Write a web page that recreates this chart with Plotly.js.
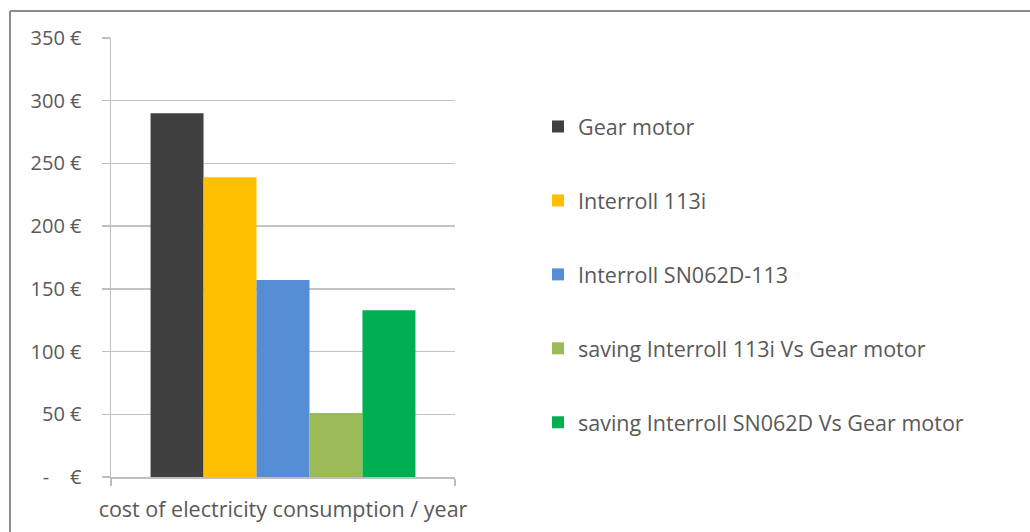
<!DOCTYPE html>
<html>
<head>
<meta charset="utf-8">
<script src="https://cdn.plot.ly/plotly-3.0.1.min.js"></script>
<style>
html,body{margin:0;padding:0;background:#fff;}
#chart{width:1030px;height:532px;}
</style>
</head>
<body>
<div id="chart"></div>
<script>
// ---- data ----
const categories = ["cost of electricity consumption / year"];
const seriesNames = [
  "Gear motor",
  "Interroll 113i",
  "Interroll SN062D-113",
  "saving Interroll 113i Vs Gear motor",
  "saving Interroll SN062D Vs Gear motor"
];
const gearMotor = [290];
const interroll113i = [239];
const interrollSN062D = [157];
const saving113i = [51];
const savingSN062D = [133];
const seriesValues = [gearMotor, interroll113i, interrollSN062D, saving113i, savingSN062D];
const seriesColors = ["#404040", "#FFC000", "#558ED5", "#9BBB59", "#00B050"];
const yTickVals = [0, 50, 100, 150, 200, 250, 300, 350];
const yTickText = ["-\u00a0\u00a0\u00a0\u00a0€", "50\u00a0€", "100\u00a0€", "150\u00a0€", "200\u00a0€", "250\u00a0€", "300\u00a0€", "350\u00a0€"];

// ---- layout geometry ----
const W = 1030, H = 532;
const mL = 111, mR = 575, mT = 38, mB = 55;
const pw = W - mL - mR, ph = H - mT - mB;
const px = x => (x - mL) / pw;
const py = y => (H - mB - y) / ph;

const traces = seriesNames.map((name, i) => ({
  type: "bar",
  name: name,
  x: categories,
  y: seriesValues[i],
  marker: {color: seriesColors[i], line: {width: 0}},
  legendgroup: "g" + i,
  hoverinfo: "name+y"
}));

const fam = "'Open Sans', Lato, sans-serif";

const layout = {
  width: W, height: H,
  margin: {l: mL, r: mR, t: mT, b: mB, pad: 0},
  paper_bgcolor: "#ffffff",
  plot_bgcolor: "#ffffff",
  font: {family: fam, color: "#595959", size: 20},
  barmode: "group",
  bargap: 0.23,
  bargroupgap: 0,
  showlegend: true,
  legend: {
    x: px(538), y: py(106), xanchor: "left", yanchor: "top",
    font: {family: fam, color: "#595959", size: 21.5},
    tracegroupgap: 43,
    bgcolor: "rgba(0,0,0,0)",
    itemclick: false, itemdoubleclick: false
  },
  xaxis: {
    type: "category",
    showline: true, linecolor: "#bfbfbf", linewidth: 1.5,
    ticks: "outside", tickson: "boundaries", ticklen: 7, tickcolor: "#bfbfbf", tickwidth: 1.5,
    showgrid: false, zeroline: false,
    tickangle: 0,
    automargin: false,
    tickfont: {family: fam, color: "#595959", size: 21.5},
    ticklabelstandoff: 13,
    fixedrange: true
  },
  yaxis: {
    range: [0, 350],
    tickvals: yTickVals, ticktext: yTickText,
    showline: true, linecolor: "#bfbfbf", linewidth: 1.5,
    ticks: "outside", ticklen: 8, tickcolor: "#bfbfbf", tickwidth: 1.5,
    showgrid: true, gridcolor: "#c4c4c4", gridwidth: 1.4,
    zeroline: false,
    automargin: false,
    tickfont: {family: fam, color: "#595959", size: 20},
    ticklabelstandoff: 16,
    fixedrange: true
  },
  shapes: [
    {type: "line", xref: "paper", yref: "paper", x0: px(10), x1: px(10), y0: py(11), y1: py(H + 5),
     line: {color: "#8c8c8c", width: 2}},
    {type: "line", xref: "paper", yref: "paper", x0: px(10), x1: px(W + 5), y0: py(11), y1: py(11),
     line: {color: "#8c8c8c", width: 2}}
  ]
};

Plotly.newPlot("chart", traces, layout, {displayModeBar: false, staticPlot: true});
</script>
</body>
</html>
